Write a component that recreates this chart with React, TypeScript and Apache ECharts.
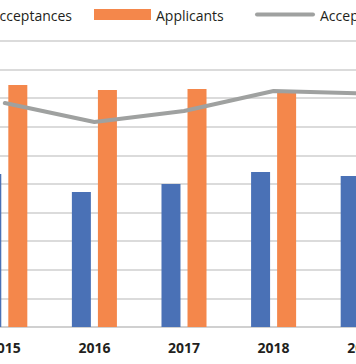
import React, { useEffect, useRef } from "react";
import * as echarts from "echarts";

const years = ["2015", "2016", "2017", "2018", "2019"];
const acceptances = [53.5, 47.2, 50.0, 54.2, 52.8];
const applicants = [84.6, 82.9, 83.2, 82.4, 83.0];
const acceptanceRate = [78.3, 71.7, 75.5, 82.5, 81.7];

const BLUE = "#4A71B6";
const ORANGE = "#F4874B";
const GRAY = "#9FA1A0";
const FONT = "'Open Sans', 'Noto Sans', sans-serif";
const SHIFT = 40;

export default function App() {
  const ref = useRef<HTMLDivElement>(null);
  useEffect(() => {
    if (!ref.current) return;
    const chart = echarts.init(ref.current, undefined, { renderer: "svg" });
    chart.setOption({
      animation: false,
      backgroundColor: "#ffffff",
      grid: { left: 0, right: 0, top: 41, bottom: 37, containLabel: false },
      xAxis: {
        type: "category",
        data: years,
        boundaryGap: true,
        axisTick: { show: false },
        axisLine: { show: true, lineStyle: { color: "#CDCDCD", width: 1.5 } },
        axisLabel: {
          margin: 13,
          fontFamily: FONT,
          fontWeight: "bold",
          fontSize: 14,
          color: "#231F20",
        },
      },
      yAxis: {
        type: "value",
        min: 0,
        max: 100,
        interval: 10,
        axisLabel: { show: false },
        axisLine: { show: false },
        axisTick: { show: false },
        splitLine: { lineStyle: { color: "#CFCFCF", width: 1.5 } },
      },
      series: [
        {
          name: "Acceptances",
          type: "bar",
          data: acceptances,
          barWidth: 19,
          barGap: "37%",
          itemStyle: { color: BLUE },
        },
        {
          name: "Applicants",
          type: "bar",
          data: applicants,
          barWidth: 19,
          itemStyle: { color: ORANGE },
        },
        {
          name: "Acceptance rate",
          type: "line",
          data: acceptanceRate,
          symbol: "none",
          z: 5,
          lineStyle: { color: GRAY, width: 4, join: "round", cap: "round" },
        },
      ],
      graphic: [
        {
          type: "text",
          x: 72 + SHIFT,
          y: 15,
          style: {
            text: "Acceptances",
            align: "right",
            verticalAlign: "middle",
            fontFamily: FONT,
            fontSize: 14,
            fill: "#231F20",
          },
        },
        {
          type: "rect",
          shape: { x: 94 + SHIFT, y: 9, width: 57, height: 11 },
          style: { fill: ORANGE },
        },
        {
          type: "text",
          x: 156 + SHIFT,
          y: 15,
          style: {
            text: "Applicants",
            align: "left",
            verticalAlign: "middle",
            fontFamily: FONT,
            fontSize: 14,
            fill: "#231F20",
          },
        },
        {
          type: "line",
          shape: { x1: 257 + SHIFT, y1: 14.5, x2: 313 + SHIFT, y2: 14.5 },
          style: { stroke: GRAY, lineWidth: 4, lineCap: "round" },
        },
        {
          type: "text",
          x: 320 + SHIFT,
          y: 15,
          style: {
            text: "Acceptance rate",
            align: "left",
            verticalAlign: "middle",
            fontFamily: FONT,
            fontSize: 14,
            fill: "#231F20",
          },
        },
      ],
    });
    return () => chart.dispose();
  }, []);
  return (
    <div
      style={{
        position: "fixed",
        left: 0,
        top: 0,
        width: 356,
        height: 364,
        overflow: "hidden",
        background: "#fff",
      }}
    >
      <div
        ref={ref}
        style={{ position: "absolute", left: -SHIFT, top: 0, width: 448, height: 364 }}
      />
    </div>
  );
}
